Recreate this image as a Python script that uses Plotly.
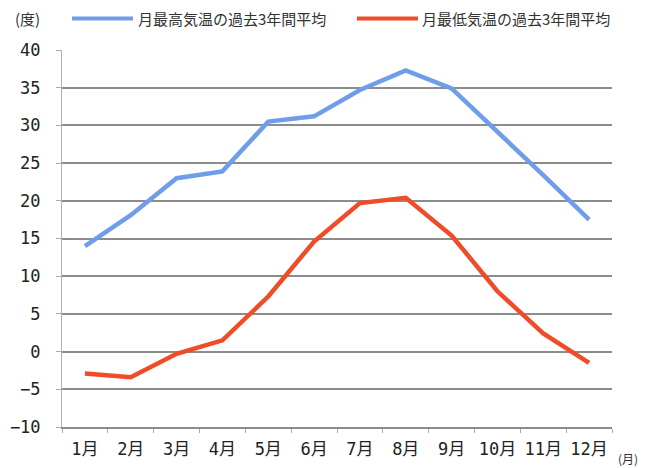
import plotly.graph_objects as go

months = ["1月", "2月", "3月", "4月", "5月", "6月", "7月", "8月", "9月", "10月", "11月", "12月"]
high_avg = [14.0, 18.1, 23.0, 23.9, 30.5, 31.2, 34.7, 37.3, 34.9, 29.2, 23.4, 17.5]
low_avg = [-2.9, -3.4, -0.3, 1.5, 7.3, 14.6, 19.7, 20.4, 15.4, 8.0, 2.4, -1.5]
high_name = "月最高気温の過去3年間平均"
low_name = "月最低気温の過去3年間平均"
y_ticks = [-10, -5, 0, 5, 10, 15, 20, 25, 30, 35, 40]

BLUE = "#6f9de9"
RED = "#ef4c28"
GRID = "#8c8c8c"
JP = "Noto Sans CJK JP"
NUM = "DejaVu Sans Mono, Noto Sans CJK JP"

OFF = 8  # page body margin
W, H = 646 - 2 * OFF, 468 - OFF
# target plot area in screen pixels: x 62..612, y 49.5..427
L = 62 - OFF
T = 49.5 - OFF
R = (W + OFF) - 612
B = (H + OFF) - 427
pw = W - L - R
ph = H - T - B

def px(x):
    return (x - OFF - L) / pw

def py(y):
    return (H - B - (y - OFF)) / ph

fig = go.Figure()
fig.add_trace(go.Scatter(x=months, y=high_avg, mode="lines", name=high_name,
                         line=dict(color=BLUE, width=4.5), showlegend=False))
fig.add_trace(go.Scatter(x=months, y=low_avg, mode="lines", name=low_name,
                         line=dict(color=RED, width=4.5), showlegend=False))

shapes = [
    dict(type="line", xref="paper", yref="paper", x0=px(72), x1=px(133), y0=py(18), y1=py(18),
         line=dict(color=BLUE, width=4)),
    dict(type="line", xref="paper", yref="paper", x0=px(357), x1=px(418), y0=py(18), y1=py(18),
         line=dict(color=RED, width=4)),
]
annotations = [
    dict(text=high_name, xref="paper", yref="paper", x=px(136), y=py(18), xanchor="left", yanchor="middle",
         showarrow=False, font=dict(family=JP, size=15, color="#333")),
    dict(text=low_name, xref="paper", yref="paper", x=px(420), y=py(18), xanchor="left", yanchor="middle",
         showarrow=False, font=dict(family=JP, size=15, color="#333")),
    dict(text="(度)", xref="paper", yref="paper", x=px(27), y=py(18), xanchor="center", yanchor="middle",
         showarrow=False, font=dict(family=JP, size=15, color="#333")),
    dict(text="(月)", xref="paper", yref="paper", x=px(628), y=py(459), xanchor="center", yanchor="middle",
         showarrow=False, font=dict(family=JP, size=12, color="#333")),
]

fig.update_layout(
    width=W, height=H,
    margin=dict(l=L, r=R, t=T, b=B, pad=0, autoexpand=False),
    paper_bgcolor="white", plot_bgcolor="white",
    shapes=shapes, annotations=annotations,
    showlegend=False,
)
fig.update_xaxes(type="category", showgrid=False, showline=True, linecolor=GRID, linewidth=2,
                 ticks="outside", tickson="boundaries", ticklen=4, tickcolor="#aaa",
                 ticklabelstandoff=6, tickangle=0, automargin=False,
                 tickfont=dict(family=NUM, size=17, color="#222"), range=[-0.5, 11.5])
fig.update_yaxes(range=[-10, 40], tickvals=y_ticks, showgrid=True, gridcolor=GRID, gridwidth=2,
                 zeroline=False, showline=True, linecolor="#b0b0b0", linewidth=1,
                 ticks="outside", ticklen=5, tickcolor="#aaa", ticklabelstandoff=12,
                 automargin=False,
                 tickfont=dict(family=NUM, size=17, color="#222"))

fig.write_html("out.html")
